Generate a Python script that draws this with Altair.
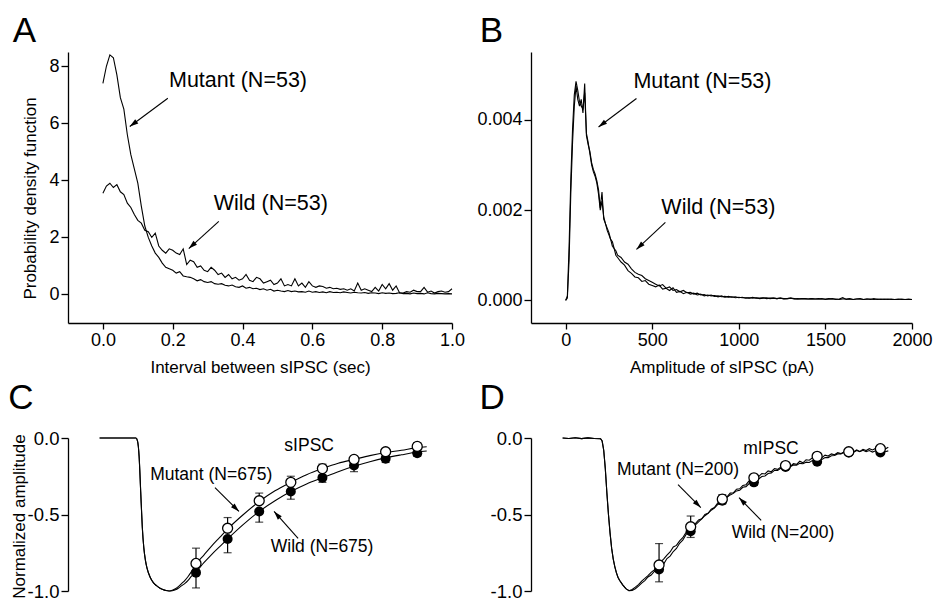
import math
import altair as alt
import pandas as pd

FONT = "Liberation Sans"

# ---------------- Panel A: interval PDF ----------------
A_interval = [round(i * 0.01, 2) for i in range(101)]
A_mutant = [7.4, 8.0, 8.4, 8.3, 7.7, 6.9, 6.5, 5.6, 4.9, 4.4,
            3.9, 3.1, 2.4, 2.0, 1.7, 1.45, 1.3, 1.1, 0.95, 0.9,
            0.85, 0.75, 0.8, 0.65, 0.62, 0.6, 0.55, 0.48, 0.52, 0.45,
            0.42, 0.45, 0.38, 0.36, 0.38, 0.32, 0.3, 0.33, 0.27, 0.25,
            0.3, 0.22, 0.25, 0.2, 0.22, 0.17, 0.2, 0.15, 0.18, 0.12,
            0.15, 0.12, 0.1, 0.14, 0.1, 0.12, 0.09, 0.1, 0.08, 0.12,
            0.08, 0.1, 0.07, 0.09, 0.06, 0.1, 0.07, 0.08, 0.06, 0.09,
            0.07, 0.05, 0.08, 0.06, 0.05, 0.07, 0.04, 0.06, 0.05, 0.03,
            0.06, 0.04, 0.05, 0.03, 0.04, 0.06, 0.03, 0.04, 0.02, 0.05,
            0.03, 0.04, 0.02, 0.06, 0.03, 0.02, 0.04, 0.03, 0.02, 0.03,
            0.02]
A_wild = [3.55, 3.8, 3.9, 3.75, 3.85, 3.6, 3.5, 3.2, 3.05, 2.8,
          2.6, 2.5, 2.25, 2.2, 2.0, 2.15, 1.7, 1.55, 1.45, 1.6,
          1.55, 1.45, 1.4, 1.6, 1.05, 1.2, 1.15, 0.95, 1.0, 0.85,
          0.8, 0.95, 0.85, 0.7, 0.75, 0.6, 0.7, 0.55, 0.6, 0.5,
          0.55, 0.7, 0.5, 0.45, 0.6, 0.55, 0.4, 0.45, 0.5, 0.35,
          0.4, 0.55, 0.3, 0.35, 0.3, 0.55, 0.3, 0.4, 0.25, 0.45,
          0.3, 0.25, 0.3, 0.28, 0.22, 0.25, 0.2, 0.22, 0.18, 0.2,
          0.15, 0.2, 0.12, 0.4, 0.15, 0.2, 0.15, 0.1, 0.25, 0.12,
          0.35, 0.2, 0.38, 0.15, 0.3, 0.05, 0.05, 0.1, 0.08, 0.15,
          0.1, 0.1, 0.25, 0.08, 0.12, 0.05, 0.1, 0.12, 0.08, 0.1,
          0.2]

# ---------------- Panel B: amplitude PDF (values x 1e-3) ----------------
B_amp = list(range(0, 301, 10)) + list(range(320, 2001, 20))
B_mutant_e3 = [0.0, 0.05, 0.9, 2.4, 3.5, 4.3, 4.75, 4.45, 4.3, 4.45,
               4.15, 4.8, 3.65, 3.45, 3.3, 3.05, 2.9, 2.8, 2.65, 2.45,
               2.05, 2.4, 1.8, 1.7, 1.55, 1.45, 1.35, 1.2, 1.15, 1.0,
               0.95,
               0.85, 0.78, 0.66, 0.6, 0.52, 0.5, 0.42, 0.44, 0.36, 0.33,
               0.3, 0.34, 0.25, 0.27, 0.22, 0.28, 0.18, 0.2, 0.15, 0.18,
               0.14, 0.16, 0.12, 0.14, 0.1, 0.12, 0.1, 0.11, 0.08, 0.1,
               0.07, 0.09, 0.07, 0.08, 0.06,
               0.07, 0.05, 0.06, 0.05, 0.06, 0.04, 0.05, 0.06, 0.04, 0.05,
               0.04, 0.05, 0.03, 0.04, 0.05, 0.03, 0.04, 0.03, 0.04, 0.03,
               0.04, 0.03, 0.03, 0.04, 0.02, 0.03, 0.04, 0.02, 0.03, 0.06,
               0.02, 0.03, 0.02, 0.03, 0.04, 0.02, 0.03, 0.02, 0.04, 0.02,
               0.03, 0.02, 0.03, 0.02, 0.02, 0.03, 0.02, 0.02, 0.03, 0.02]
B_wild_e3 = [0.0, 0.1, 1.2, 2.7, 3.8, 4.55, 4.85, 4.65, 4.4, 4.3,
             4.25, 4.6, 3.7, 3.5, 3.25, 3.0, 2.85, 2.75, 2.6, 2.35,
             2.0, 2.2, 1.85, 1.7, 1.6, 1.5, 1.35, 1.3, 1.15, 1.1,
             1.0,
             0.95, 0.85, 0.8, 0.7, 0.62, 0.58, 0.55, 0.48, 0.44, 0.4,
             0.36, 0.32, 0.35, 0.27, 0.3, 0.22, 0.24, 0.19, 0.22, 0.17,
             0.18, 0.14, 0.16, 0.12, 0.13, 0.1, 0.12, 0.09, 0.1, 0.08,
             0.09, 0.07, 0.08, 0.06, 0.07,
             0.06, 0.06, 0.05, 0.07, 0.05, 0.05, 0.06, 0.04, 0.05, 0.05,
             0.04, 0.05, 0.04, 0.04, 0.05, 0.04, 0.03, 0.04, 0.04, 0.03,
             0.04, 0.03, 0.04, 0.03, 0.03, 0.04, 0.03, 0.03, 0.02, 0.03,
             0.03, 0.04, 0.02, 0.03, 0.03, 0.02, 0.03, 0.03, 0.02, 0.03,
             0.02, 0.03, 0.02, 0.03, 0.02, 0.02, 0.03, 0.02, 0.02, 0.02]

# ---------------- Panel C: sIPSC averaged traces ----------------
C_fall_t = [0, 11.5, 12, 12.5, 13, 13.5, 14, 14.5, 15, 16, 17, 18, 19, 20, 21]
C_fall_v = [0, 0, -0.02, -0.12, -0.35, -0.58, -0.72, -0.8, -0.85, -0.91,
            -0.945, -0.965, -0.98, -0.99, -0.997]
C_rise_t = [22, 23, 24, 25, 26, 27, 28, 29, 30.5, 33, 35.5, 38, 40.5, 45.5,
            50.5, 55.5, 60.5, 65.5, 70.5, 75.5, 80.5, 85.5, 90.5, 95.5, 100.5, 103.5]
C_mut_rise = [-1.0, -0.995, -0.985, -0.97, -0.95, -0.93, -0.905, -0.875, -0.825,
              -0.765, -0.705, -0.65, -0.595, -0.5, -0.415, -0.345, -0.29, -0.24,
              -0.2, -0.165, -0.14, -0.115, -0.095, -0.08, -0.063, -0.057]
C_wild_rise = [-1.0, -0.998, -0.992, -0.98, -0.965, -0.95, -0.93, -0.905, -0.875,
               -0.815, -0.76, -0.71, -0.66, -0.565, -0.48, -0.41, -0.35, -0.3,
               -0.26, -0.22, -0.185, -0.155, -0.13, -0.11, -0.092, -0.085]
C_marker_t = [30.5, 40.5, 50.5, 60.5, 70.5, 80.5, 90.5, 100.5]
C_mut_mean = [-0.82, -0.59, -0.41, -0.29, -0.20, -0.14, -0.09, -0.055]
C_mut_err = [-0.72, -0.52, -0.36, -0.25, -0.17, -0.12, -0.075, -0.03]
C_wild_mean = [-0.88, -0.66, -0.48, -0.35, -0.26, -0.18, -0.135, -0.10]
C_wild_err = [-0.98, -0.75, -0.55, -0.40, -0.29, -0.22, -0.16, -0.12]

# ---------------- Panel D: mIPSC averaged traces ----------------
D_fall_t = [0, 2, 4, 6, 8, 10, 12, 12.5, 13, 13.5, 14, 14.5, 15, 15.5, 16,
            16.5, 17, 17.5, 18, 19, 20, 21]
D_fall_v = [0, -0.003, 0.002, -0.004, 0.001, -0.003, -0.005, -0.02, -0.08,
            -0.2, -0.36, -0.5, -0.62, -0.72, -0.79, -0.84, -0.88, -0.91,
            -0.93, -0.96, -0.985, -0.998]
D_rise_t = list(range(22, 104))
D_mut_rise = [-0.99, -0.975, -0.958, -0.935, -0.918, -0.9, -0.878, -0.862, -0.835, -0.812,
              -0.79, -0.766, -0.745, -0.712, -0.702, -0.672, -0.652, -0.618, -0.598, -0.572,
              -0.56, -0.536, -0.528, -0.5, -0.492, -0.465, -0.455, -0.426, -0.418, -0.392,
              -0.385, -0.36, -0.358, -0.335, -0.332, -0.31, -0.305, -0.28, -0.275, -0.252,
              -0.252, -0.232, -0.235, -0.215, -0.22, -0.2, -0.205, -0.19, -0.195, -0.18,
              -0.185, -0.168, -0.172, -0.152, -0.162, -0.142, -0.145, -0.13, -0.138, -0.122,
              -0.128, -0.112, -0.118, -0.104, -0.11, -0.096, -0.102, -0.09, -0.096, -0.086,
              -0.092, -0.078, -0.088, -0.074, -0.082, -0.07, -0.078, -0.068, -0.074, -0.062,
              -0.072, -0.06]
D_wild_rise = [-0.996, -0.985, -0.968, -0.948, -0.932, -0.908, -0.896, -0.872, -0.862, -0.832,
               -0.822, -0.788, -0.772, -0.742, -0.722, -0.688, -0.668, -0.632, -0.612, -0.588,
               -0.568, -0.548, -0.528, -0.508, -0.492, -0.472, -0.458, -0.436, -0.422, -0.402,
               -0.388, -0.372, -0.362, -0.346, -0.342, -0.322, -0.318, -0.298, -0.292, -0.278,
               -0.268, -0.252, -0.248, -0.232, -0.228, -0.212, -0.212, -0.198, -0.198, -0.186,
               -0.188, -0.176, -0.178, -0.166, -0.168, -0.158, -0.16, -0.148, -0.152, -0.142,
               -0.14, -0.128, -0.128, -0.116, -0.114, -0.104, -0.104, -0.094, -0.096, -0.088,
               -0.092, -0.082, -0.09, -0.08, -0.09, -0.082, -0.092, -0.084, -0.092, -0.082,
               -0.09, -0.084]
D_marker_t = [30.5, 40.5, 50.5, 60.5, 70.5, 80.5, 90.5, 100.5]
D_mut_mean = [-0.83, -0.58, -0.40, -0.26, -0.18, -0.12, -0.09, -0.07]
D_mut_err = [-0.69, -0.51, -0.37, -0.24, -0.17, -0.11, -0.08, -0.06]
D_wild_mean = [-0.86, -0.61, -0.41, -0.29, -0.19, -0.155, -0.095, -0.095]
D_wild_err = [-0.94, -0.65, -0.43, -0.31, -0.20, -0.165, -0.10, -0.10]

# ---------------- annotations (data coordinates) ----------------
A_labels = [("Mutant (N=53)", 0.387, 7.47), ("Wild (N=53)", 0.481, 3.16)]
A_arrows = [(0.186, 6.88, 0.077, 5.89), (0.332, 2.56, 0.246, 1.61)]
B_labels = [("Mutant (N=53)", 790, 0.00484), ("Wild (N=53)", 882, 0.00204)]
B_arrows = [(409, 0.00447, 190, 0.00384), (576, 0.00173, 409, 0.00113)]
C_labels = [("sIPSC", 66.3, -0.052), ("Mutant (N=675)", 35.3, -0.24), ("Wild (N=675)", 70.4, -0.714)]
C_arrows = [(36.5, -0.325, 44.1, -0.48), (62.8, -0.656, 55.2, -0.48)]
D_labels = [("mIPSC", 65.9, -0.071), ("Mutant (N=200)", 36.5, -0.208), ("Wild (N=200)", 69.7, -0.623)]
D_arrows = [(36.5, -0.305, 43.7, -0.455), (62.8, -0.539, 55.8, -0.39)]
PANEL_LETTERS = [("A", -0.225, 8.85), ("B", -428, 0.005721), ("C", -24.9, 0.19), ("D", -22.3, 0.19)]

# panel sizes / domains
A_W, A_H, A_XD, A_YD = 384, 271, [-0.1, 1.0], [-1, 8.5]
B_W, B_H, B_XD, B_YD = 381, 271, [-200, 2000], [-0.0005, 0.0055]
C_W, C_H, C_XD, C_YD = 384, 153, [-10, 111.5], [-1, 0]
D_W, D_H, D_XD, D_YD = 381, 153, [-10, 110.5], [-1, 0]

HEAD = "M0,0 L-0.3,1 L0.3,1 Z"
NEG_LABEL = "datum.value < 0 ? '-' + format(-datum.value, '.1f') : format(datum.value, '.1f')"


def sc(dom):
    return alt.Scale(domain=dom, nice=False, zero=False)


def XE(field, xd, no_x_axis):
    if no_x_axis:
        return alt.X(field, scale=sc(xd), axis=None)
    return alt.X(field, scale=sc(xd))


def YE(field, yd):
    return alt.Y(field, scale=sc(yd))


def arrow_layers(arrows, xd, yd, w, h, nox):
    sx = w / (xd[1] - xd[0])
    sy = h / (yd[1] - yd[0])
    rows = []
    for (x1, y1, x2, y2) in arrows:
        dx = (x2 - x1) * sx
        dy = -(y2 - y1) * sy
        ang = math.degrees(math.atan2(dx, -dy)) % 360
        rows.append({"x": x1, "y": y1, "x2": x2, "y2": y2, "ang": ang})
    df = pd.DataFrame(rows)
    shaft = alt.Chart(df).mark_rule(color="black", strokeWidth=1.1).encode(
        x=XE("x:Q", xd, nox), y=YE("y:Q", yd), x2="x2:Q", y2="y2:Q")
    head = alt.Chart(df).mark_point(shape=HEAD, filled=True, color="black",
                                    opacity=1, size=300, strokeWidth=0).encode(
        x=XE("x2:Q", xd, nox), y=YE("y2:Q", yd),
        angle=alt.Angle("ang:Q", scale=None))
    return shaft + head


def text_layer(labels, xd, yd, size, nox, baseline="middle"):
    df = pd.DataFrame([{"label": t, "x": x, "y": y} for (t, x, y) in labels])
    return alt.Chart(df).mark_text(font=FONT, fontSize=size, color="black",
                                   baseline=baseline).encode(
        x=XE("x:Q", xd, nox), y=YE("y:Q", yd), text="label:N")


def letter_layer(idx, xd, yd, nox):
    return text_layer([PANEL_LETTERS[idx]], xd, yd, 35, nox, baseline="alphabetic")


def line_df(pairs):
    rows = []
    for name, xs, ys in pairs:
        for xv, yv in zip(xs, ys):
            rows.append({"series": name, "x": xv, "y": yv})
    return pd.DataFrame(rows)


# ---------------- Panel A ----------------
dfA = line_df([("Mutant", A_interval, A_mutant), ("Wild", A_interval, A_wild)])
A_lines = alt.Chart(dfA).mark_line(color="black", strokeWidth=1.1).encode(
    x=alt.X("x:Q", scale=sc(A_XD), axis=alt.Axis(
        values=[0, 0.2, 0.4, 0.6, 0.8, 1.0], format=".1f",
        title="Interval between sIPSC (sec)", labelFontSize=18, titleFontSize=17,
        tickSize=6, labelPadding=2, titleY=36)),
    y=alt.Y("y:Q", scale=sc(A_YD), axis=alt.Axis(
        values=[0, 2, 4, 6, 8], format="d", title="Probability density function",
        labelFontSize=18, titleFontSize=17, tickSize=7, labelPadding=2,
        titleX=-29, titleY=146)),
    detail="series:N")
panelA = alt.layer(
    A_lines,
    text_layer(A_labels, A_XD, A_YD, 21.5, False),
    arrow_layers(A_arrows, A_XD, A_YD, A_W, A_H, False),
    letter_layer(0, A_XD, A_YD, False),
).properties(width=A_W, height=A_H)

# ---------------- Panel B ----------------
dfB = line_df([("Mutant", B_amp, [v * 0.001 for v in B_mutant_e3]),
               ("Wild", B_amp, [v * 0.001 for v in B_wild_e3])])
B_lines = alt.Chart(dfB).mark_line(color="black", strokeWidth=1.1).encode(
    x=alt.X("x:Q", scale=sc(B_XD), axis=alt.Axis(
        values=[0, 500, 1000, 1500, 2000], format="d",
        title="Amplitude of sIPSC (pA)", labelFontSize=18, titleFontSize=17,
        tickSize=6, labelPadding=2, titleY=36)),
    y=alt.Y("y:Q", scale=sc(B_YD), axis=alt.Axis(
        values=[0, 0.002, 0.004], format=".3f", title=None,
        labelFontSize=18, tickSize=7, labelPadding=2)),
    detail="series:N")
panelB = alt.layer(
    B_lines,
    text_layer(B_labels, B_XD, B_YD, 21.5, False),
    arrow_layers(B_arrows, B_XD, B_YD, B_W, B_H, False),
    letter_layer(1, B_XD, B_YD, False),
).properties(width=B_W, height=B_H)


def trace_panel(fall_t, fall_v, rise_t, mut_rise, wild_rise, mk_t, mut_mean, mut_err,
                wild_mean, wild_err, xd, yd, w, h, ytitle, labels, arrows, letter_idx, interp):
    df = line_df([("Mutant", fall_t + rise_t, fall_v + mut_rise),
                  ("Wild", fall_t + rise_t, fall_v + wild_rise)])
    yaxis = alt.Axis(values=[0, -0.5, -1.0], labelExpr=NEG_LABEL, title=ytitle,
                     labelFontSize=18.5, titleFontSize=17, tickSize=7, labelPadding=2,
                     titleX=-40, titleY=78)
    lines = alt.Chart(df).mark_line(color="black", strokeWidth=1.1, interpolate=interp).encode(
        x=alt.X("x:Q", scale=sc(xd), axis=None),
        y=alt.Y("y:Q", scale=sc(yd), axis=yaxis),
        detail="series:N")
    mk = pd.DataFrame({"x": mk_t, "mm": mut_mean, "me": mut_err,
                       "wm": wild_mean, "we": wild_err})
    X = XE("x:Q", xd, True)
    err_m = alt.Chart(mk).mark_rule(color="black", strokeWidth=1.2).encode(
        x=X, y=YE("mm:Q", yd), y2="me:Q")
    err_w = alt.Chart(mk).mark_rule(color="black", strokeWidth=1.2).encode(
        x=X, y=YE("wm:Q", yd), y2="we:Q")
    cap_m = alt.Chart(mk).mark_tick(color="black", orient="horizontal", size=8,
                                    thickness=1.2).encode(x=X, y=YE("me:Q", yd))
    cap_w = alt.Chart(mk).mark_tick(color="black", orient="horizontal", size=8,
                                    thickness=1.2).encode(x=X, y=YE("we:Q", yd))
    pts_w = alt.Chart(mk).mark_point(shape="circle", filled=True, color="black",
                                     size=100, opacity=1).encode(x=X, y=YE("wm:Q", yd))
    pts_m = alt.Chart(mk).mark_point(shape="circle", filled=True, fill="white",
                                     stroke="black", strokeWidth=1.3,
                                     size=100, opacity=1).encode(x=X, y=YE("mm:Q", yd))
    return alt.layer(
        lines, err_w, cap_w, err_m, cap_m, pts_w, pts_m,
        text_layer(labels, xd, yd, 17.5, True),
        arrow_layers(arrows, xd, yd, w, h, True),
        letter_layer(letter_idx, xd, yd, True),
    ).properties(width=w, height=h)


panelC = trace_panel(C_fall_t, C_fall_v, C_rise_t, C_mut_rise, C_wild_rise, C_marker_t,
                     C_mut_mean, C_mut_err, C_wild_mean, C_wild_err, C_XD, C_YD, C_W, C_H,
                     "Normalized amplitude", C_labels, C_arrows, 2, "monotone")
panelD = trace_panel(D_fall_t, D_fall_v, D_rise_t, D_mut_rise, D_wild_rise, D_marker_t,
                     D_mut_mean, D_mut_err, D_wild_mean, D_wild_err, D_XD, D_YD, D_W, D_H,
                     None, D_labels, D_arrows, 3, "linear")

chart = alt.concat(
    panelA, panelB, panelC, panelD,
    columns=2, spacing={"row": 115, "column": 79}, bounds="flush",
).properties(
    padding={"left": 0, "top": 6, "right": 0, "bottom": 0}, background="white"
).configure_view(strokeWidth=0).configure_axis(
    domainColor="black", tickColor="black", labelColor="black", titleColor="black",
    labelFont=FONT, titleFont=FONT, grid=False, domainWidth=1.3, tickWidth=1.3,
    titleFontWeight="normal", labelFlush=False, labelOverlap=False,
)

chart.save("out.html", embed_options={"renderer": "svg", "actions": False})
